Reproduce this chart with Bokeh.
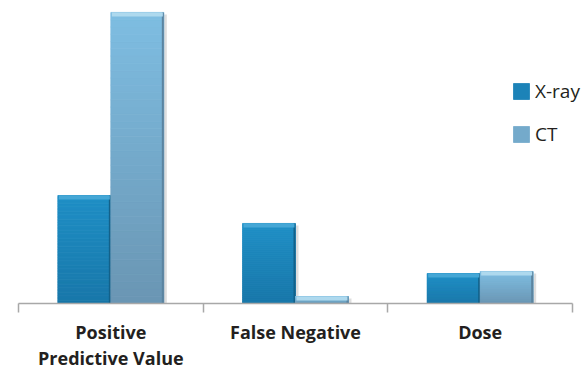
from bokeh.plotting import figure
from bokeh.models import FixedTicker, Legend, LegendItem, ColumnDataSource, Range1d
from bokeh.embed import file_html
from bokeh.resources import INLINE

# ---- data (relative units, CT positive predictive value = 100) ----
categories = ["Positive\nPredictive Value", "False Negative", "Dose"]
series = ["X-ray", "CT"]
xray = [37.1, 27.5, 10.3]
ct = [100.0, 2.4, 11.0]

# ---- style ----
W, H = 586, 373
BL, BR, BT, BB = 18, 0, 0, 70
AXIS_RIGHT = 572            # pixel where the last category ends
FW, FH = W - BL - BR, H - BT - BB
Y_END = 104.1
N_CAT = len(categories)
px_x = N_CAT / (AXIS_RIGHT - BL)
X_END = FW * px_x
px_y = Y_END / FH
BW = 53 * px_x

grad = {
    "X-ray": ((0x18, 0x77, 0xA9), (0x1F, 0x8F, 0xC6)),
    "CT": ((0x6A, 0x96, 0xB3), (0x7E, 0xBD, 0xE2)),
}
bevel = {"X-ray": "#45a7d6", "CT": "#aed9ee"}
edge = {"X-ray": "#136189", "CT": "#5b84a0"}

p = figure(width=W, height=H, output_backend="svg", toolbar_location=None,
           x_range=Range1d(0, X_END), y_range=Range1d(0, Y_END),
           y_axis_location=None, min_border_left=BL, min_border_right=BR,
           min_border_top=BT, min_border_bottom=BB)
p.grid.visible = False
p.outline_line_color = None
p.background_fill_color = "white"
p.border_fill_color = "white"

N = 40
renderers = {}
for s_idx, (name, vals) in enumerate(zip(series, [xray, ct])):
    lefts, rights, bottoms, tops, colors = [], [], [], [], []
    bev = dict(left=[], right=[], bottom=[], top=[])
    edg = dict(left=[], right=[], bottom=[], top=[])
    shd = dict(left=[], right=[], bottom=[], top=[])
    c0, c1 = grad[name]
    for i, v in enumerate(vals):
        centre = i + 0.5
        left = centre - BW if s_idx == 0 else centre
        right = left + BW
        for k in range(N):
            t = (k + 0.5) / N
            col = "#%02x%02x%02x" % tuple(int(round(a + (b - a) * t)) for a, b in zip(c0, c1))
            lefts.append(left); rights.append(right)
            bottoms.append(v * k / N); tops.append(v * (k + 1) / N)
            colors.append(col)
        bh = min(4 * px_y, v * 0.6)
        bev["left"].append(left + 1 * px_x); bev["right"].append(right - 1 * px_x)
        bev["bottom"].append(v - bh); bev["top"].append(v)
        edg["left"].append(right - 2 * px_x); edg["right"].append(right)
        edg["bottom"].append(0); edg["top"].append(v)
        shd["left"].append(right); shd["right"].append(right + 3 * px_x)
        shd["bottom"].append(0); shd["top"].append(max(v - 2 * px_y, 0))
    p.quad(left="left", right="right", bottom="bottom", top="top", source=ColumnDataSource(shd),
           fill_color="#b5b5b5", fill_alpha=0.45, line_color=None)
    renderers[name] = p.quad(left=lefts, right=rights, bottom=bottoms, top=tops,
                             fill_color=colors, line_color=colors, line_width=0.8)
    p.quad(left="left", right="right", bottom="bottom", top="top", source=ColumnDataSource(edg),
           fill_color=edge[name], line_color=None)
    p.quad(left="left", right="right", bottom="bottom", top="top", source=ColumnDataSource(bev),
           fill_color=bevel[name], line_color=None)

legend = Legend(items=[LegendItem(label=s, renderers=[renderers[s]], index=N // 2) for s in series],
                location=(493, FH - 147), glyph_width=20, glyph_height=20, label_height=20,
                spacing=17, padding=0, margin=0, label_standoff=4,
                label_text_font="Open Sans", label_text_font_size="19px",
                label_text_color="#231f20", border_line_color=None, background_fill_alpha=0)
p.add_layout(legend, "center")

ax = p.xaxis[0]
ax.bounds = (0, N_CAT)
ax.ticker = FixedTicker(ticks=[i + 0.5 for i in range(N_CAT)], minor_ticks=list(range(N_CAT + 1)))
ax.major_label_overrides = {i + 0.5: c for i, c in enumerate(categories)}
ax.axis_line_color = "#a8a8a8"
ax.axis_line_width = 1.5
ax.major_tick_line_color = None
ax.major_tick_out = 0
ax.major_tick_in = 0
ax.minor_tick_line_color = "#a8a8a8"
ax.minor_tick_line_width = 1.5
ax.minor_tick_out = 9
ax.minor_tick_in = 0
ax.major_label_standoff = 7
ax.major_label_text_line_height = 1.1
ax.major_label_text_font = "Open Sans"
ax.major_label_text_font_style = "bold"
ax.major_label_text_font_size = "18px"
ax.major_label_text_color = "#231f20"

open("out.html", "w").write(file_html(p, INLINE))
